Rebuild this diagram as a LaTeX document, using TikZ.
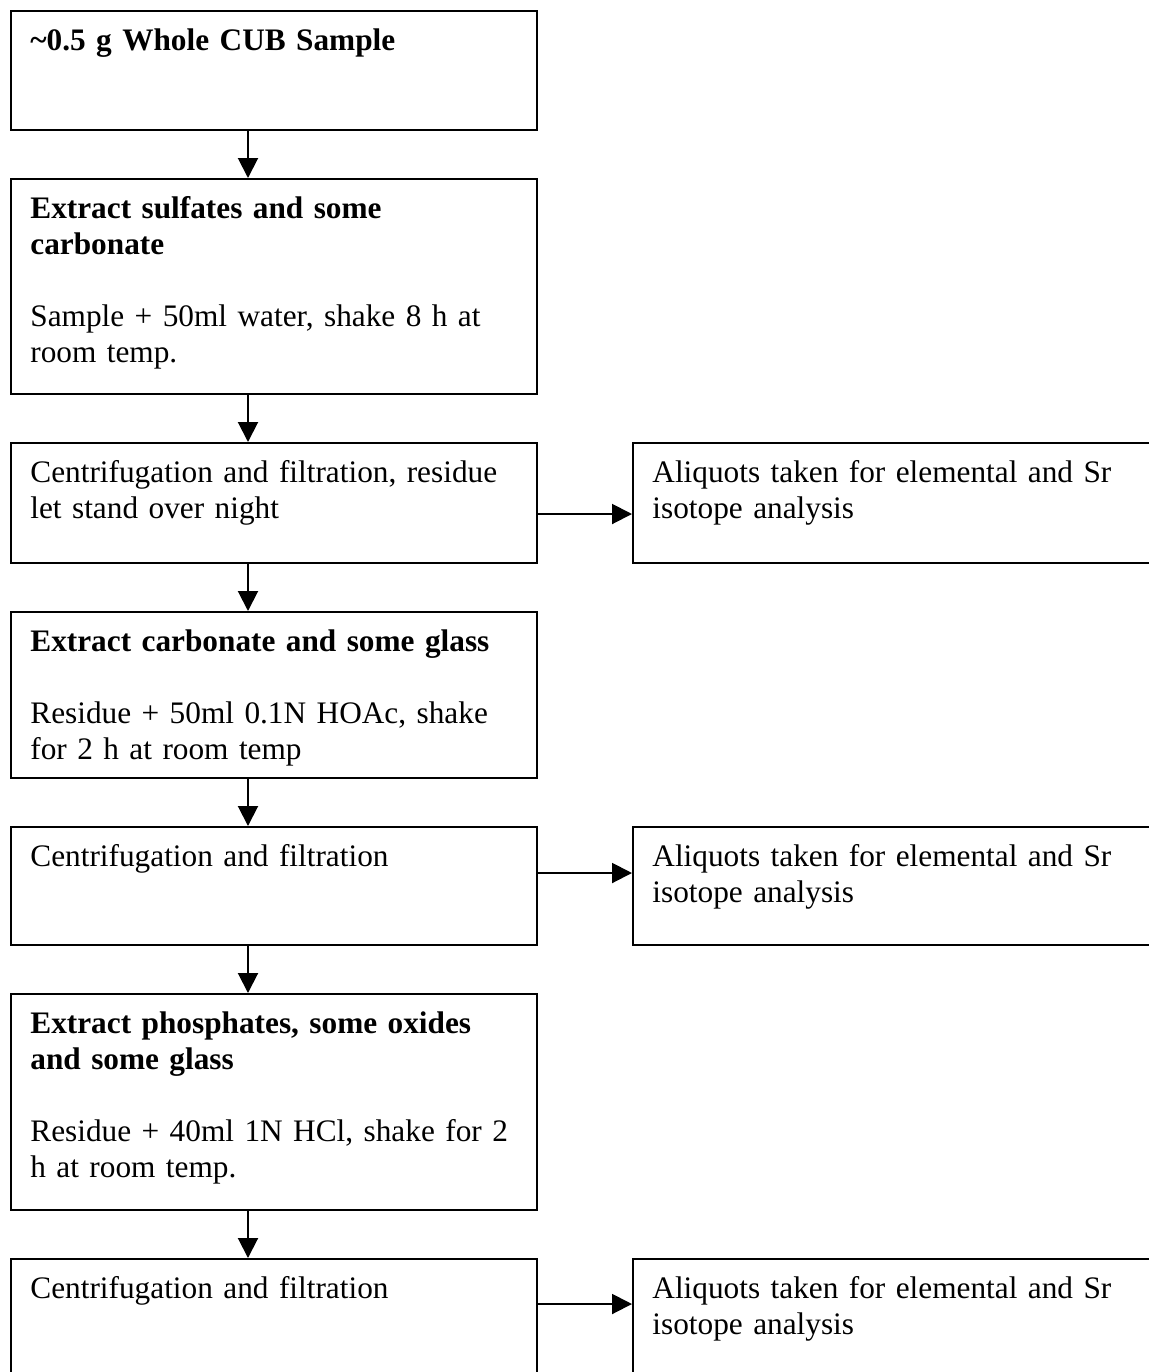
\documentclass[tikz,border=0pt]{standalone}
\usepackage{fontspec}
\setmainfont{Liberation Serif}
\usetikzlibrary{positioning,arrows.meta}

\begin{document}
\begin{tikzpicture}[
    x=0.5pt, y=-0.5pt, font=\fontsize{15.65}{18}\selectfont,
    box/.style={draw, line width=1pt, anchor=north west, inner sep=0pt,
      minimum width=263pt},
    txt/.style={anchor=base west, text width=252pt, align=left,
      inner sep=0pt},
    flow/.style={line width=1pt, -{Triangle[length=10pt,width=10pt]}}]

    \clip (0,0) rectangle (1149,1372);

    % boxes

    \node[box, minimum height=59.5pt] (s1) at (10,10) {};
    \node[box, minimum height=107.5pt] (s2) at (10,178) {};
    \node[box, minimum height=60pt] (s3) at (10,442) {};
    \node[box, minimum height=83pt] (s4) at (10,611) {};
    \node[box, minimum height=59pt] (s5) at (10,826) {};
    \node[box, minimum height=108pt] (s6) at (10,993) {};
    \node[box, minimum height=65pt] (s7) at (10,1258) {};

    \node[box, minimum height=60pt] (a3) at (632,442) {};
    \node[box, minimum height=59pt] (a5) at (632,826) {};
    \node[box, minimum height=65pt] (a7) at (632,1258) {};

    % texts

    \node[txt] (s1t) at ([shift={(20,40)}]s1.north west)
      {\textbf{\textasciitilde 0.5 g Whole CUB Sample}};
    \node[txt] (s2t) at ([shift={(20,40)}]s2.north west)
      {\textbf{Extract sulfates and some}\\ \textbf{carbonate}\\[18pt]
       Sample + 50ml water, shake 8 h at\\ room temp.};
    \node[txt] (s3t) at ([shift={(20,40)}]s3.north west)
      {Centrifugation and filtration, residue\\ let stand over night};
    \node[txt] (s4t) at ([shift={(20,40)}]s4.north west)
      {\textbf{Extract carbonate and some glass}\\[18pt]
       Residue + 50ml 0.1N HOAc, shake\\ for 2 h at room temp};
    \node[txt] (s5t) at ([shift={(20,40)}]s5.north west)
      {Centrifugation and filtration};
    \node[txt] (s6t) at ([shift={(20,40)}]s6.north west)
      {\textbf{Extract phosphates, some oxides}\\ \textbf{and some glass}\\[18pt]
       Residue + 40ml 1N HCl, shake for 2\\ h at room temp.};
    \node[txt] (s7t) at ([shift={(20,40)}]s7.north west)
      {Centrifugation and filtration};

    \node[txt] (a3t) at ([shift={(20,40)}]a3.north west)
      {Aliquots taken for elemental and Sr\\ isotope analysis};
    \node[txt] (a5t) at ([shift={(20,40)}]a5.north west)
      {Aliquots taken for elemental and Sr\\ isotope analysis};
    \node[txt] (a7t) at ([shift={(20,40)}]a7.north west)
      {Aliquots taken for elemental and Sr\\ isotope analysis};

    % arrows

    \coordinate (spine) at (248,0);

    \draw[flow] (s1.south -| spine) to (s2.north -| spine);
    \draw[flow] (s2.south -| spine) to (s3.north -| spine);
    \draw[flow] (s3.south -| spine) to (s4.north -| spine);
    \draw[flow] (s4.south -| spine) to (s5.north -| spine);
    \draw[flow] (s5.south -| spine) to (s6.north -| spine);
    \draw[flow] (s6.south -| spine) to (s7.north -| spine);

    \draw[flow] ([yshift=-36pt]s3.north east) to ([yshift=-36pt]a3.north west);
    \draw[flow] ([yshift=-23.5pt]s5.north east) to ([yshift=-23.5pt]a5.north west);
    \draw[flow] ([yshift=-23pt]s7.north east) to ([yshift=-23pt]a7.north west);
  \end{tikzpicture}
\end{document}
